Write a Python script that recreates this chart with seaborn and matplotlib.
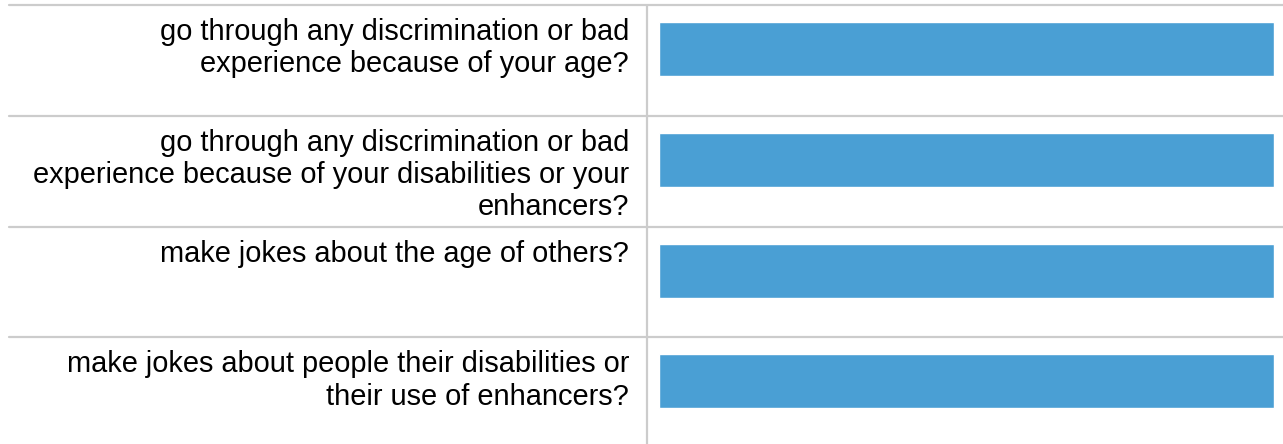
import matplotlib
matplotlib.use("Agg")
import matplotlib.pyplot as plt
import seaborn as sns
import pandas as pd

# Survey questions and the share of respondents per question (%)
questions = [
    "go through any discrimination or bad\nexperience because of your age?",
    "go through any discrimination or bad\nexperience because of your disabilities or your\nenhancers?",
    "make jokes about the age of others?",
    "make jokes about people their disabilities or\ntheir use of enhancers?",
]
shares = [100, 100, 100, 100]

df = pd.DataFrame({"question": questions, "share": shares})

sns.set_style("white")
plt.rcParams["font.family"] = ["Liberation Sans", "DejaVu Sans"]

W, H = 1283, 444
fig = plt.figure(figsize=(W / 100, H / 100), dpi=100)

# layout in pixels
left_px, right_px = 9, 1283
top_px = 5
row_px = 110.8
n = len(questions)
bottom_px = top_px + n * row_px
bar_x0, bar_x1 = 659, 1274
ax = fig.add_axes([left_px / W, 1 - bottom_px / H,
                   (right_px - left_px) / W, n * row_px / H])

unit = (bar_x1 - bar_x0) / 100.0
xmin = -(bar_x0 - left_px) / unit
xmax = 100 + (right_px - bar_x1) / unit

bar_h = 54 / row_px
lead = (17 + 27) / row_px  # distance from row top to bar centre, in rows

sns.barplot(data=df, x="share", y="question", orient="h", width=bar_h,
            color="#4a9fd4", saturation=1, ax=ax, zorder=3)

ax.set_xlim(xmin, xmax)
ax.set_ylim(n - lead, -lead)
ax.set_xticks([])
ax.set_yticks([])
ax.set_xlabel("")
ax.set_ylabel("")
for s in ax.spines.values():
    s.set_visible(False)

grid_c = "#cccccc"
for i in range(n + 1):
    ax.axhline(i - lead, color=grid_c, lw=1.6, clip_on=False, zorder=1)
divider_x = (647 - bar_x0) / unit
ax.axvline(divider_x, color=grid_c, lw=1.6, zorder=1)

label_x = (629 - bar_x0) / unit
for i, q in enumerate(questions):
    ax.text(label_x, i - lead + 13 / row_px, q, ha="right", va="top",
            fontsize=20.9, color="#000000", linespacing=1.19)

fig.savefig("out.png", dpi=100)
